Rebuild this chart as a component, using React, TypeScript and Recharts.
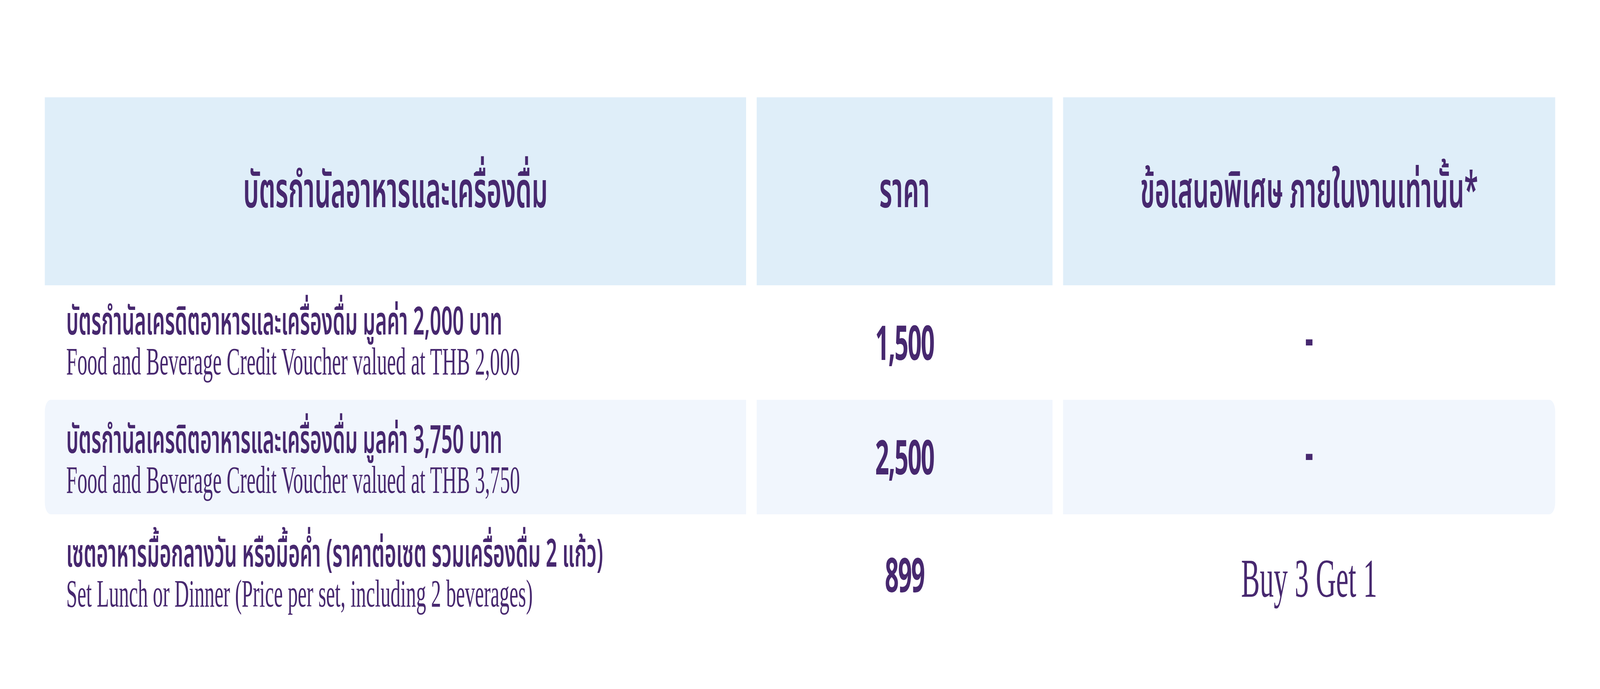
import React from "react";
import { BarChart, Bar, XAxis, YAxis, Rectangle } from "recharts";

// table content
const HEADERS = ["บัตรกำนัลอาหารและเครื่องดื่ม", "ราคา", "ข้อเสนอพิเศษ ภายในงานเท่านั้น*"];
const ITEM_TH = [
  "บัตรกำนัลเครดิตอาหารและเครื่องดื่ม มูลค่า 2,000 บาท",
  "บัตรกำนัลเครดิตอาหารและเครื่องดื่ม มูลค่า 3,750 บาท",
  "เซตอาหารมื้อกลางวัน หรือมื้อค่ำ (ราคาต่อเซต รวมเครื่องดื่ม 2 แก้ว)",
];
const ITEM_EN = [
  "Food and Beverage Credit Voucher valued at THB 2,000",
  "Food and Beverage Credit Voucher valued at THB 3,750",
  "Set Lunch or Dinner (Price per set, including 2 beverages)",
];
const PRICES = ["1,500", "2,500", "899"];
const OFFERS = ["-", "-", "Buy 3 Get 1"];

const W = 8000;
const H = 1763;

const INK = "#47286f";
const HEAD_BG = "#dfeef9";
const ZEBRA_BG = "#f1f6fd";
const THAI = "'Noto Sans Thai', 'Noto Sans', sans-serif";
const SERIF = "'Liberation Serif', 'Times New Roman', serif";
const SANS = "'Noto Sans', sans-serif";

// column slots (share of table width) and gap between cells
const COLS = ["c1", "c2", "c3"];
const SHARE = [3533, 1532, 2487];
const GAP = 53;
const RADIUS = 30;
// the item text in the shaded row sits a little lower
const ITEM_NUDGE = [0, 10, 0];

type Row = { key: string; kind: "head" | "body"; idx: number; shaded: boolean };

const withShares = (r: Row) => ({ ...r, c1: SHARE[0], c2: SHARE[1], c3: SHARE[2] });

const headRows = [withShares({ key: "head", kind: "head", idx: 0, shaded: true })];
const bodyRows = [0, 1].map((i) => withShares({ key: "r" + i, kind: "body", idx: i, shaded: i === 1 }));
const lastRows = [withShares({ key: "r2", kind: "body", idx: 2, shaded: false })];

function cellShape(col: number) {
  return (props: any) => {
    const { x, y, width, height, payload } = props;
    const left = col === 0 ? x : x + GAP / 2;
    const right = col === 2 ? x + width : x + width - GAP / 2;
    const w = right - left;
    const cx = left + w / 2;
    const cy = y + height / 2;
    const row: Row = payload;
    const fill = row.kind === "head" ? HEAD_BG : row.shaded ? ZEBRA_BG : "none";
    let radius: any = 0;
    if (row.kind === "body" && row.shaded) {
      radius = col === 0 ? [RADIUS, 0, 0, RADIUS] : col === 2 ? [0, RADIUS, RADIUS, 0] : 0;
    }
    let content: React.ReactNode = null;
    if (row.kind === "head") {
      content = (
        <text x={cx} y={cy + 41} textAnchor="middle" fill={INK} fontFamily={THAI} fontWeight={600} fontSize={127}>
          {HEADERS[col]}
        </text>
      );
    } else if (col === 0) {
      const ty = cy + ITEM_NUDGE[row.idx];
      content = (
        <g>
          <text x={left + 107} y={ty - 20} fill={INK} fontFamily={THAI} fontWeight={600} fontSize={99}>
            {ITEM_TH[row.idx]}
          </text>
          <text x={left + 107} y={ty + 82} fill={INK} fontFamily={SERIF} fontSize={100}>
            {ITEM_EN[row.idx]}
          </text>
        </g>
      );
    } else if (col === 1) {
      content = (
        <text x={cx} y={cy + 45} textAnchor="middle" fill={INK} fontFamily={SANS} fontWeight={700} fontSize={122} letterSpacing={-4}>
          {PRICES[row.idx]}
        </text>
      );
    } else {
      const offer = OFFERS[row.idx];
      content =
        offer === "-" ? (
          <text x={cx} y={cy + 34} textAnchor="middle" fill={INK} fontFamily={SANS} fontWeight={700} fontSize={125}>
            {offer}
          </text>
        ) : (
          <text x={cx} y={cy + 57} textAnchor="middle" fill={INK} fontFamily={SERIF} fontSize={140}>
            {offer}
          </text>
        );
    }
    return (
      <g>
        {fill !== "none" && <Rectangle x={left} y={y} width={w} height={height} radius={radius} fill={fill} />}
        {content}
      </g>
    );
  };
}

function TableBand({ rows, height }: { rows: any[]; height: number }) {
  const total = SHARE.reduce((a, b) => a + b, 0);
  return (
    <BarChart
      width={W}
      height={height}
      data={rows}
      layout="vertical"
      margin={{ top: 0, right: 224, bottom: 0, left: 224 }}
      barCategoryGap={0}
    >
      <XAxis type="number" domain={[0, total]} hide />
      <YAxis type="category" dataKey="key" hide />
      {COLS.map((c, i) => (
        <Bar key={c} dataKey={c} stackId="t" shape={cellShape(i)} isAnimationActive={false} />
      ))}
    </BarChart>
  );
}

export default function App() {
  // the browser may clamp the window narrower than 8000px: squeeze the page to fit it
  const sx = Math.min(1, window.innerWidth / W);
  const sy = Math.min(1, window.innerHeight / H);
  return (
    <div
      style={{
        position: "absolute",
        left: 0,
        top: 0,
        width: W,
        height: H,
        background: "#fff",
        transform: `scale(${sx}, ${sy})`,
        transformOrigin: "0 0",
      }}
    >
      <div style={{ position: "absolute", left: 0, top: 249 }}>
        <TableBand rows={headRows} height={481} />
      </div>
      <div style={{ position: "absolute", left: 0, top: 730 }}>
        <TableBand rows={bodyRows} height={586} />
      </div>
      <div style={{ position: "absolute", left: 0, top: 1316 }}>
        <TableBand rows={lastRows} height={308} />
      </div>
    </div>
  );
}
